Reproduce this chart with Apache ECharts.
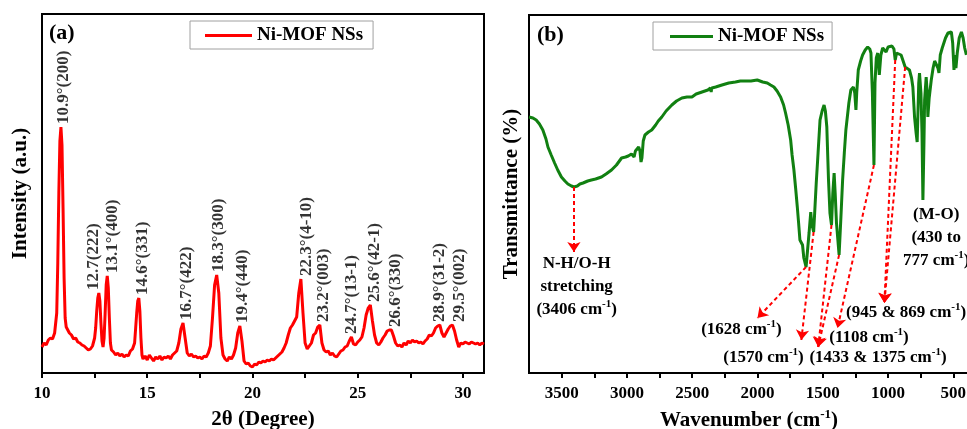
<!DOCTYPE html>
<html>
<head>
<meta charset="utf-8">
<title>Ni-MOF NSs: XRD and FTIR</title>
<script src="https://cdn.jsdelivr.net/npm/echarts@6/dist/echarts.min.js"></script>
<style>
  html, body { margin: 0; padding: 0; background: #ffffff; }
  #chart { width: 967px; height: 429px; }
</style>
</head>
<body>
<div id="chart"></div>
<script>
// ---------- (a) XRD pattern ----------
const xrdTwoTheta = [
  10.00, 10.10, 10.20, 10.30, 10.40, 10.50, 10.60, 10.65, 10.70, 10.75, 10.80, 10.85, 10.90, 10.95,
  11.00, 11.05, 11.10, 11.15, 11.20, 11.30, 11.40, 11.50, 11.60, 11.70, 11.80, 11.90,
  12.00, 12.10, 12.20, 12.30, 12.40, 12.50, 12.55, 12.60, 12.65, 12.70, 12.75, 12.80, 12.85, 12.90, 12.95,
  13.00, 13.05, 13.10, 13.15, 13.20, 13.25, 13.30, 13.40, 13.50, 13.60, 13.70, 13.80, 13.90,
  14.00, 14.10, 14.20, 14.30, 14.40, 14.45, 14.50, 14.55, 14.60, 14.65, 14.70, 14.75, 14.80, 14.90,
  15.00, 15.10, 15.20, 15.30, 15.40, 15.50, 15.60, 15.70, 15.80, 15.90,
  16.00, 16.10, 16.20, 16.30, 16.40, 16.50, 16.60, 16.70, 16.80, 16.90,
  17.00, 17.10, 17.20, 17.30, 17.40, 17.50, 17.60, 17.70, 17.80, 17.90,
  18.00, 18.10, 18.20, 18.30, 18.40, 18.50, 18.60, 18.70, 18.80, 18.90,
  19.00, 19.10, 19.20, 19.30, 19.40, 19.50, 19.60, 19.70, 19.80, 19.90,
  20.00, 20.10, 20.20, 20.30, 20.40, 20.50, 20.60, 20.70, 20.80, 20.90,
  21.00, 21.10, 21.20, 21.30, 21.40, 21.50, 21.60, 21.70, 21.80, 21.90,
  22.00, 22.10, 22.20, 22.30, 22.40, 22.50, 22.60, 22.70, 22.80, 22.90,
  23.00, 23.10, 23.20, 23.30, 23.40, 23.50, 23.60, 23.70, 23.80, 23.90,
  24.00, 24.10, 24.20, 24.30, 24.40, 24.50, 24.60, 24.70, 24.80, 24.90,
  25.00, 25.10, 25.20, 25.30, 25.40, 25.50, 25.60, 25.70, 25.80, 25.90,
  26.00, 26.10, 26.20, 26.30, 26.40, 26.50, 26.60, 26.70, 26.80, 26.90,
  27.00, 27.10, 27.20, 27.30, 27.40, 27.50, 27.60, 27.70, 27.80, 27.90,
  28.00, 28.10, 28.20, 28.30, 28.40, 28.50, 28.60, 28.70, 28.80, 28.90,
  29.00, 29.10, 29.20, 29.30, 29.40, 29.50, 29.60, 29.70, 29.80, 29.90,
  30.00, 30.10, 30.20, 30.30, 30.40, 30.50, 30.60, 30.70, 30.80, 30.90, 31.00
];
const xrdIntensity = [
  26, 30, 28, 33, 35, 34, 40, 42, 60, 110, 180, 232, 246, 228,
  165, 95, 55, 46, 44, 40, 38, 34, 35, 31, 30, 28,
  27, 25, 23, 24, 27, 35, 45, 62, 75, 80, 72, 50, 32, 26, 35,
  60, 88, 97, 85, 55, 30, 23, 21, 18, 20, 17, 19, 16,
  18, 17, 22, 24, 30, 45, 60, 72, 75, 62, 35, 18, 14, 17,
  13, 18, 15, 12, 16, 14, 17, 13, 16, 15,
  17, 14, 18, 20, 22, 30, 44, 50, 35, 20,
  17, 19, 16, 17, 15, 16, 14, 17, 16, 20,
  27, 55, 88, 98, 80, 35, 18, 14, 12, 16,
  14, 18, 25, 40, 47, 32, 12, 9, 10, 7,
  6, 9, 8, 11, 10, 12, 11, 13, 12, 14,
  13, 15, 17, 19, 21, 25, 30, 38, 45, 48,
  52, 56, 80, 94, 60, 30, 24, 27, 30, 38,
  40, 46, 48, 30, 23, 21, 22, 18, 20, 17,
  16, 19, 22, 23, 26, 27, 32, 36, 29, 28,
  31, 33, 36, 45, 58, 65, 68, 52, 38, 30,
  28, 31, 35, 38, 42, 43, 43, 37, 30, 27,
  28, 26, 30, 28, 32, 30, 33, 31, 32, 30,
  31, 29, 32, 34, 38, 37, 40, 45, 47, 48,
  40, 36, 40, 44, 47, 48, 42, 33, 26, 30,
  29, 31, 30, 29, 31, 30, 29, 30, 28, 30, 29
];
const xrdPeakTwoTheta = [10.9, 12.7, 13.1, 14.6, 16.7, 18.3, 19.4, 22.3, 23.2, 24.7, 25.6, 26.6, 28.9, 29.5];
const xrdPeakLabels = [
  '10.9°(200)', '12.7(222)', '13.1°(400)', '14.6°(331)', '16.7°(422)', '18.3°(300)', '19.4°(440)',
  '22.3°(4-10)', '23.2°(003)', '24.7°(13-1)', '25.6°(42-1)', '26.6°(330)', '28.9°(31-2)', '29.5°(002)'
];
const xrdTickMarks = [10, 12.5, 15, 17.5, 20, 22.5, 25, 27.5, 30];
const xrdTickLabels = [10, 15, 20, 25, 30];

// ---------- (b) FTIR spectrum ----------
const ftirWavenumber = [
  3750, 3720, 3695, 3670, 3644, 3620, 3605, 3580, 3554, 3530, 3502, 3475, 3452, 3425, 3406,
  3380, 3360, 3336, 3300, 3272, 3240, 3195, 3160, 3118, 3080, 3041, 3010, 2990, 2965, 2952,
  2945, 2935, 2920, 2910, 2900, 2892, 2885, 2875, 2862, 2835, 2810, 2780, 2760, 2733, 2700,
  2656, 2620, 2579, 2540, 2502, 2470, 2425, 2380, 2360, 2355, 2350, 2320, 2272, 2220, 2169,
  2131, 2092, 2050, 2002, 1990, 1960, 1925, 1900, 1874, 1850, 1823, 1800, 1785, 1765, 1746,
  1735, 1721, 1708, 1695, 1685, 1675, 1665, 1655, 1645, 1628, 1615, 1605, 1592, 1585, 1570,
  1562, 1550, 1536, 1521, 1505, 1490, 1480, 1469, 1456, 1445, 1433, 1423, 1413, 1405, 1395,
  1375, 1362, 1348, 1335, 1323, 1300, 1285, 1265, 1255, 1246, 1240, 1228, 1210, 1195, 1175,
  1156, 1140, 1131, 1120, 1108, 1100, 1090, 1079, 1067, 1055, 1041, 1015, 1000, 990, 970,
  955, 945, 935, 925, 900, 887, 869, 855, 836, 820, 810, 797, 785, 777, 771,
  765, 759, 748, 740, 733, 725, 720, 708, 700, 695, 685, 669, 655, 643, 630,
  618, 610, 600, 585, 560, 541, 515, 505, 495, 487, 480, 470, 455, 438, 425, 413, 400
];
const ftirTransmittance = [
  256, 255, 253, 249, 243, 234, 226, 218, 210, 203, 196, 192, 189, 187, 186,
  187, 189, 190, 192, 193, 194, 196, 199, 203, 208, 215, 216, 217, 219, 220,
  216, 222, 224, 226, 222, 211, 215, 232, 238, 241, 243, 248, 252, 256, 262,
  268, 272, 275, 276, 276, 279, 281, 283, 285, 281, 285, 286, 288, 290, 291,
  292, 292, 292, 293, 293, 291, 290, 288, 286, 282, 276, 268, 260, 248, 233,
  218, 203, 185, 166, 150, 133, 133, 128, 115, 106, 125, 140, 161, 150, 141,
  160, 190, 220, 253, 262, 268, 262, 246, 193, 160, 148, 180, 200, 180, 150,
  118, 153, 193, 220, 243, 270, 283, 286, 280, 263, 280, 303, 312, 318, 323,
  326, 324, 320, 280, 208, 290, 315, 320, 298, 318, 325, 321, 326, 328, 327,
  324, 313, 320, 321, 318, 318, 306, 305, 303, 295, 286, 256, 240, 231, 260,
  290, 300, 280, 240, 173, 230, 273, 296, 280, 256, 275, 293, 305, 312, 314,
  305, 300, 318, 325, 335, 340, 341, 330, 303, 318, 305, 320, 335, 341, 335, 325, 318
];
const ftirTickMarks = [3500, 3250, 3000, 2750, 2500, 2250, 2000, 1750, 1500, 1250, 1000, 750, 500];
const ftirTickLabels = [3500, 3000, 2500, 2000, 1500, 1000, 500];

// Band assignments: the wavenumbers each arrow starts from, and the note text
const bandSources = [[3406], [1628], [1570], [1433, 1375], [1108], [945, 869]];
const bandTexts = [
  'N-H/O-H\nstretching\n(3406 cm{sup|-1})',
  '(1628 cm{sup|-1})',
  '(1570 cm{sup|-1})',
  '(1433 & 1375 cm{sup|-1})',
  '(1108 cm{sup|-1})',
  '(945 & 869 cm{sup|-1})'
];
const metalOxideText = '(M-O)\n(430 to\n777 cm{sup|-1})';

// Layout of the notes (wavenumber, transmittance): where each arrow points and where its text sits
const bandArrowTips = [[3406, 121], [2000, 55], [1664, 33], [1535, 26], [1387, 45], [1028, 70]];
const bandTextAt = [[3385, 86], [2123, 43], [1954, 15], [1077, 15], [1146, 35], [862, 60]];
const metalOxideTextAt = [631, 135];
// Horizontal nudges (px) for the rotated peak labels
const peakLabelNudge = [3, -5, 5, 4, 4, 2, 3, 6, 4, 0, 4, 4, 0, 7];

// ---------- chart ----------
const FONT = "'Liberation Serif', 'Times New Roman', serif";
const SERIES_NAME = 'Ni-MOF NSs';

const xrdPoints = xrdTwoTheta.map((t, i) => [t, xrdIntensity[i]]);
const ftirPoints = ftirWavenumber.map((w, i) => [w, ftirTransmittance[i]]);
const ftirAt = w => ftirTransmittance[ftirWavenumber.indexOf(w)];
const xrdAt = t => xrdIntensity[xrdTwoTheta.indexOf(t)];

const boldText = (size) => ({ fontFamily: FONT, fontWeight: 'bold', fontSize: size, color: '#000' });
const supStyle = (size, lh) => ({ fontFamily: FONT, fontWeight: 'bold', fontSize: size, color: '#000', verticalAlign: 'top', lineHeight: lh });

const axisLineStyle = { show: true, lineStyle: { color: '#000', width: 2 } };

const bandLines = [];
bandSources.forEach((sources, i) => {
  sources.forEach(w => {
    bandLines.push([{ coord: [w, ftirAt(w)] }, { coord: bandArrowTips[i] }]);
  });
});

const option = {
  animation: false,
  backgroundColor: '#ffffff',
  title: [
    { text: '(a)', left: 44, top: 17, textStyle: boldText(22) },
    { text: '(b)', left: 532, top: 19, textStyle: boldText(22) }
  ],
  legend: [
    {
      data: [SERIES_NAME],
      left: 190, top: 21,
      padding: [5, 10, 4, 15],
      icon: 'rect', itemWidth: 47, itemHeight: 3,
      borderColor: '#a0a0a0', borderWidth: 1,
      textStyle: boldText(19),
      selectedMode: false
    },
    {
      data: [SERIES_NAME + ' '],
      left: 653, top: 22,
      padding: [5, 8, 4, 17],
      icon: 'rect', itemWidth: 43, itemHeight: 3,
      borderColor: '#a0a0a0', borderWidth: 1,
      textStyle: boldText(19),
      formatter: n => n.trim(),
      selectedMode: false
    }
  ],
  grid: [
    { left: 42, top: 14, width: 442, height: 359, outerBoundsMode: 'none', containLabel: false,
      show: true, borderColor: '#000', borderWidth: 2, backgroundColor: 'transparent' },
    { left: 529, top: 15, width: 440, height: 358, outerBoundsMode: 'none', containLabel: false,
      show: true, borderColor: '#000', borderWidth: 2, backgroundColor: 'transparent' }
  ],
  xAxis: [
    {
      gridIndex: 0, type: 'value', min: 10, max: 31,
      axisLine: axisLineStyle,
      axisTick: { show: true, inside: false, length: 5, lineStyle: { color: '#000', width: 2 }, customValues: xrdTickMarks },
      axisLabel: { ...boldText(17), margin: 12, customValues: xrdTickLabels, formatter: v => String(v) },
      splitLine: { show: false },
      name: '2θ (Degree)', nameLocation: 'middle', nameGap: 36,
      nameTextStyle: boldText(21)
    },
    {
      gridIndex: 1, type: 'value', min: 380, max: 3750, inverse: true,
      axisLine: axisLineStyle,
      axisTick: { show: true, inside: false, length: 5, lineStyle: { color: '#000', width: 2 }, customValues: ftirTickMarks },
      axisLabel: { ...boldText(17), margin: 12, customValues: ftirTickLabels, formatter: v => String(v) },
      splitLine: { show: false },
      name: 'Wavenumber (cm{sup|-1})', nameLocation: 'middle', nameGap: 35,
      nameTextStyle: { ...boldText(21), lineHeight: 26, rich: { sup: supStyle(13, 12) } }
    }
  ],
  yAxis: [
    {
      gridIndex: 0, type: 'value', min: 0, max: 359,
      axisLine: axisLineStyle, axisTick: { show: false }, axisLabel: { show: false }, splitLine: { show: false },
      name: 'Intensity (a.u.)', nameLocation: 'middle', nameGap: 11, nameRotate: 90,
      nameTextStyle: boldText(21)
    },
    {
      gridIndex: 1, type: 'value', min: 0, max: 358,
      axisLine: axisLineStyle, axisTick: { show: false }, axisLabel: { show: false }, splitLine: { show: false },
      name: 'Transmittance (%)', nameLocation: 'middle', nameGap: 7, nameRotate: 90,
      nameTextStyle: boldText(21)
    }
  ],
  series: [
    {
      name: SERIES_NAME, type: 'line', xAxisIndex: 0, yAxisIndex: 0,
      data: xrdPoints, symbol: 'none', showSymbol: false,
      color: '#ff0000',
      lineStyle: { color: '#ff0000', width: 3 },
      silent: true
    },
    {
      name: 'peak labels', type: 'scatter', xAxisIndex: 0, yAxisIndex: 0,
      symbolSize: 0, silent: true,
      data: xrdPeakTwoTheta.map((t, i) => ({
        value: [t, xrdAt(t)],
        label: { offset: [0, peakLabelNudge[i]] }
      })),
      label: {
        show: true, position: 'top', distance: 3, rotate: 90,
        align: 'left', verticalAlign: 'middle',
        formatter: p => xrdPeakLabels[p.dataIndex],
        ...boldText(17)
      }
    },
    {
      name: SERIES_NAME + ' ', type: 'line', xAxisIndex: 1, yAxisIndex: 1,
      data: ftirPoints, symbol: 'none', showSymbol: false,
      color: '#118011',
      lineStyle: { color: '#118011', width: 3 },
      silent: true,
      markLine: {
        silent: true,
        symbol: ['none', 'arrow'], symbolSize: 10,
        label: { show: false },
        lineStyle: { color: '#ff0000', type: [4, 3], width: 2 },
        emphasis: { disabled: true },
        data: bandLines
      },
      markPoint: {
        silent: true,
        symbol: 'circle', symbolSize: 0,
        label: {
          show: true, position: 'inside', align: 'center',
          ...boldText(17), lineHeight: 23,
          rich: { sup: supStyle(11, 11) }
        },
        data: bandTexts.map((t, i) => ({ coord: bandTextAt[i], label: { formatter: t } }))
          .concat([{ coord: metalOxideTextAt, label: { formatter: metalOxideText } }])
      }
    }
  ]
};

const chart = echarts.init(document.getElementById('chart'), null, { renderer: 'canvas' });
chart.setOption(option);
</script>
</body>
</html>
